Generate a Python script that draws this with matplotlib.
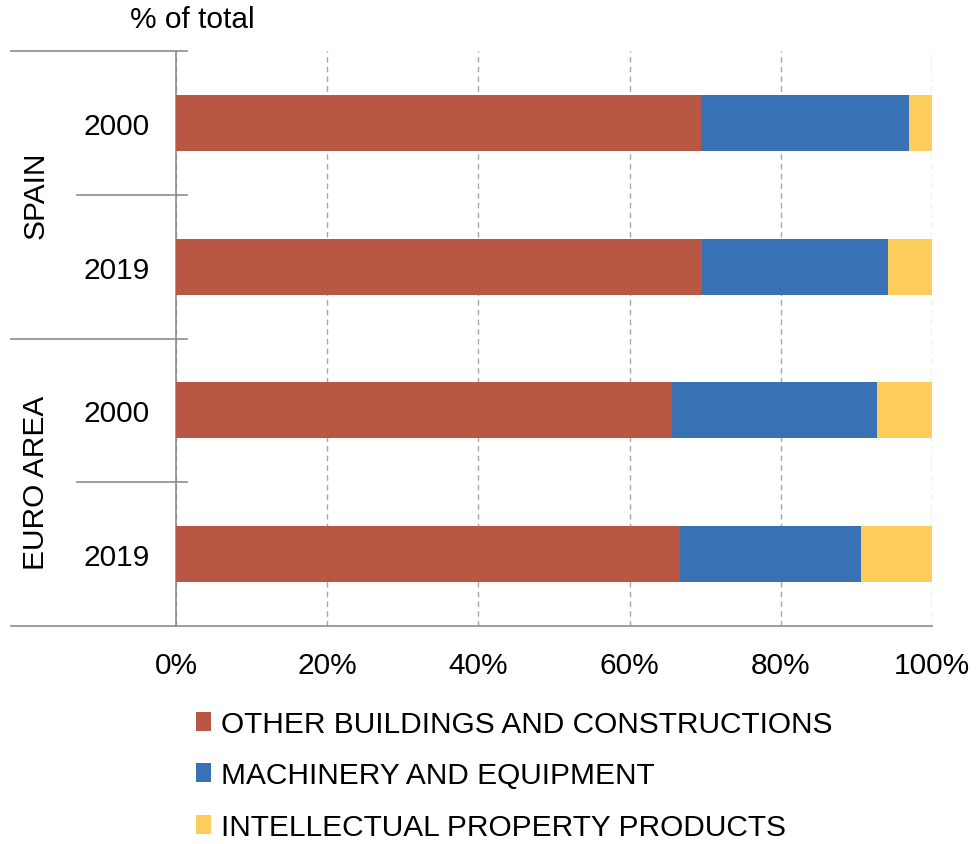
import matplotlib
matplotlib.use("Agg")
import matplotlib.pyplot as plt
import matplotlib.transforms as mtransforms
from matplotlib.patches import Patch

plt.rcParams['font.family'] = ['Liberation Sans', 'DejaVu Sans']

years = ["2000", "2019", "2000", "2019"]
groups = ["SPAIN", "EURO AREA"]
series_names = ["OTHER BUILDINGS AND CONSTRUCTIONS", "MACHINERY AND EQUIPMENT",
                "INTELLECTUAL PROPERTY PRODUCTS"]
buildings = [69.5, 69.6, 65.6, 66.7]
machinery = [27.5, 24.6, 27.1, 23.9]
intellectual = [3.0, 5.8, 7.3, 9.4]
colors = ["#B85744", "#3872B5", "#FDCD5C"]
xticks = [0, 20, 40, 60, 80, 100]
xticklabels = ["0%", "20%", "40%", "60%", "80%", "100%"]

FS = 21.5

fig = plt.figure(figsize=(9.78, 8.45), dpi=100)
ax = fig.add_axes([176/978, 1-627/845, 756/978, (627-52)/845])

pos = list(range(len(years)))
left = [0]*len(years)
for vals, c, name in zip([buildings, machinery, intellectual], colors, series_names):
    ax.barh(pos, vals, left=left, height=0.39, color=c, label=name, zorder=3)
    left = [l + v for l, v in zip(left, vals)]

ax.set_xlim(0, 100)
ax.set_ylim(3.5, -0.5)
ax.set_xticks(xticks)
ax.set_xticklabels(xticklabels, fontsize=FS)
ax.set_yticks(pos)
ax.set_yticklabels(years, fontsize=FS)
ax.tick_params(axis='y', length=0, pad=19)
ax.tick_params(axis='x', length=0, pad=18)
for s in ["top", "right", "bottom"]:
    ax.spines[s].set_visible(False)
ax.spines["left"].set_color("#8C8C8C")
ax.spines["left"].set_linewidth(1.2)
ax.xaxis.grid(True, linestyle=(0, (4, 3)), color="#A8A8A8", linewidth=1.0, zorder=0)
ax.set_axisbelow(True)

tr = mtransforms.blended_transform_factory(fig.transFigure, ax.transData)
lc = "#8C8C8C"
# long lines
ax.plot([11/978, 187/978], [-0.5, -0.5], transform=tr, color=lc, lw=1.2, clip_on=False)
ax.plot([11/978, 187/978], [1.5, 1.5], transform=tr, color=lc, lw=1.2, clip_on=False)
ax.plot([11/978, 932/978], [3.5, 3.5], transform=tr, color=lc, lw=1.2, clip_on=False)
# short lines
ax.plot([77/978, 187/978], [0.5, 0.5], transform=tr, color=lc, lw=1.2, clip_on=False)
ax.plot([77/978, 187/978], [2.5, 2.5], transform=tr, color=lc, lw=1.2, clip_on=False)

ax.text(36/978, 0.5, groups[0], transform=tr, rotation=90, ha='center', va='center', fontsize=FS)
ax.text(36/978, 2.5, groups[1], transform=tr, rotation=90, ha='center', va='center', fontsize=FS)

fig.text(192/978, 1-20/845, "% of total", ha='center', va='center', fontsize=FS)

handles = [Patch(facecolor=c, label=n) for c, n in zip(colors, series_names)]
fig.legend(handles=handles, loc='upper left', bbox_to_anchor=(196/978, 1-711/845),
           frameon=False, fontsize=FS, handlelength=0.5, handleheight=0.6,
           handletextpad=0.35, labelspacing=0.78, borderaxespad=0, borderpad=0)

fig.savefig("out.png", dpi=100)
